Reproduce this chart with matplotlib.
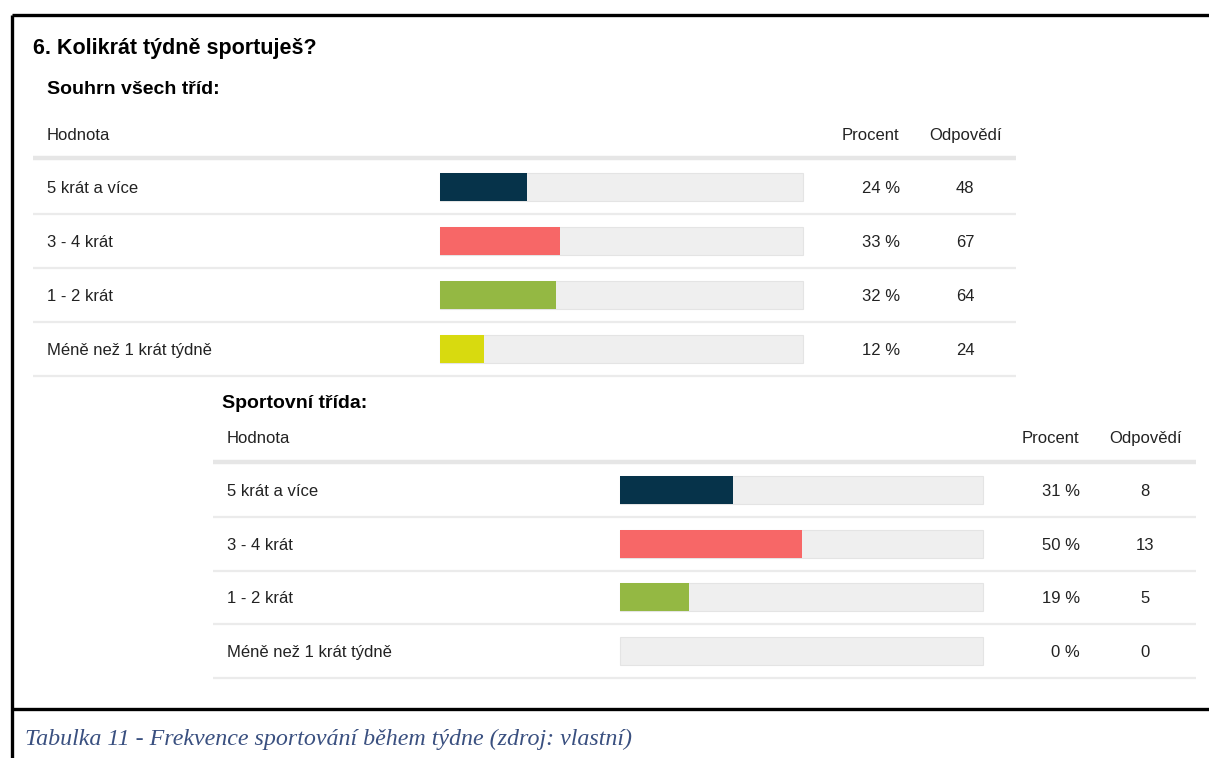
import matplotlib.pyplot as plt
import numpy as np

# Survey table: "6. Kolikrát týdně sportuješ?"
labels = ['5 krát a více', '3 - 4 krát', '1 - 2 krát', 'Méně než 1 krát týdně']
colors = ['#06334A', '#F76767', '#94B843', '#D8DA0F']

all_pct = [24, 33, 32, 12]
all_cnt = [48, 67, 64, 24]
sport_pct = [31, 50, 19, 0]
sport_cnt = [8, 13, 5, 0]

W, H = 1209, 758
fig = plt.figure(figsize=(W / 100, H / 100), dpi=100)
ax = fig.add_axes([0, 0, 1, 1])
ax.set_xlim(0, W)
ax.set_ylim(H, 0)
ax.axis('off')

plt.rcParams['font.family'] = ['Liberation Sans', 'DejaVu Sans']
txt = '#222222'
dy = 1.5  # small text nudge

# outer frame
ax.plot([12, W], [15, 15], color='black', lw=2.4, solid_capstyle='butt')
ax.plot([12, 12], [15, H], color='black', lw=2.4, solid_capstyle='butt')
ax.plot([12, W], [709, 709], color='black', lw=2.4, solid_capstyle='butt')

ax.text(33, 47 + dy, '6. Kolikrát týdně sportuješ?', fontsize=15.5, fontweight='bold',
        va='center', ha='left', color='black')


def draw_table(left, sub_x, sub_y, head_x, head_y, sep_y, row0, pitch, title, pct, cnt):
    right = left + 983
    ax.text(sub_x, sub_y + dy, title, fontsize=14, fontweight='bold', va='center', color='black')
    ax.text(head_x, head_y + dy, 'Hodnota', fontsize=12, va='center', color=txt)
    ax.text(left + 837, head_y + dy, 'Procent', fontsize=12, va='center', ha='center', color=txt)
    ax.text(left + 933, head_y + dy, 'Odpovědí', fontsize=12, va='center', ha='center', color=txt)
    ax.plot([left, right], [sep_y, sep_y], color='#E6E6E6', lw=3.2, solid_capstyle='butt')

    ys = row0 + pitch * np.arange(len(labels))
    bar_x0, bar_len = left + 407, 363
    # empty track
    ax.barh(ys, [bar_len] * len(ys), left=bar_x0, height=28, color='#EFEFEF',
            edgecolor='#E4E4E4', linewidth=0.8)
    # filled part
    ax.barh(ys, np.array(pct) / 100 * bar_len, left=bar_x0, height=28, color=colors,
            linewidth=0)
    for y, lab, p, c in zip(ys, labels, pct, cnt):
        ax.text(head_x, y + dy, lab, fontsize=12, va='center', color=txt)
        ax.text(left + 867, y + dy, f'{p} %', fontsize=12, va='center', ha='right', color=txt)
        ax.text(left + 932, y + dy, str(c), fontsize=12, va='center', ha='center', color=txt)
        ax.plot([left, right], [y + 27, y + 27], color='#EBEBEB', lw=1.6, solid_capstyle='butt')


draw_table(33, 47, 88, 47, 134, 158, 187, 54, 'Souhrn všech tříd:', all_pct, all_cnt)
draw_table(213, 222, 402, 227, 437, 462, 490, 53.7, 'Sportovní třída:', sport_pct, sport_cnt)

ax.text(25, 739, 'Tabulka 11 - Frekvence sportování během týdne (zdroj: vlastní)',
        fontsize=17.3, fontstyle='italic', family=['Liberation Serif', 'DejaVu Serif'],
        va='center', color='#3A5080')

fig.savefig('out.png', dpi=100)
